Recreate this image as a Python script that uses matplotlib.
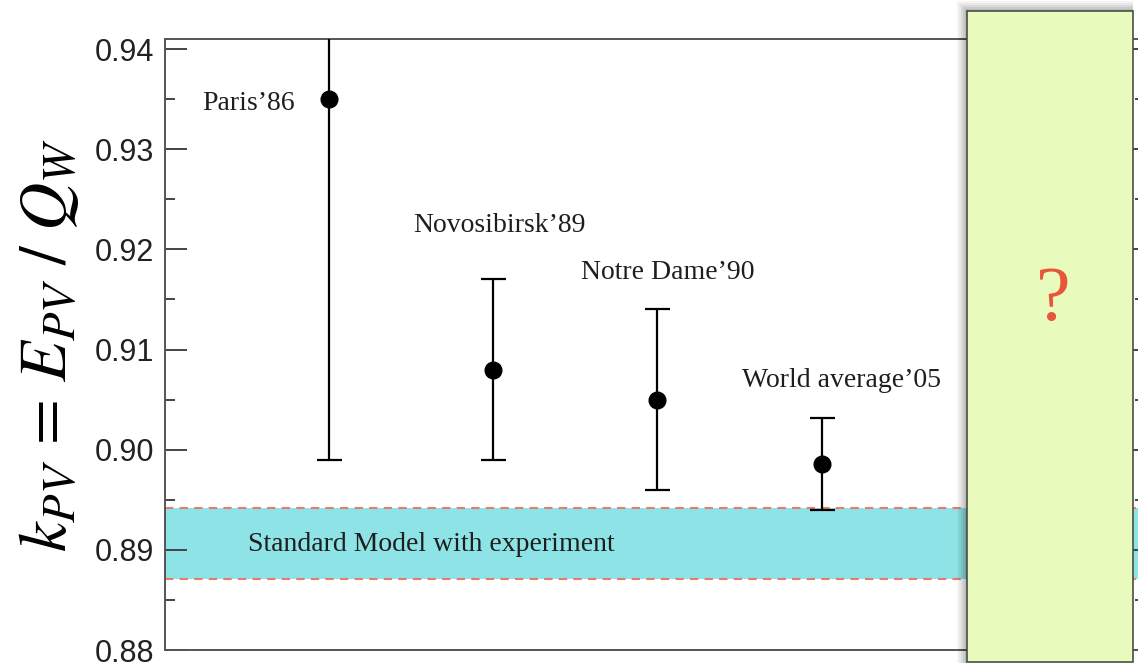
import matplotlib
matplotlib.use("Agg")
import matplotlib.pyplot as plt
from matplotlib.patches import Rectangle
from matplotlib.ticker import MultipleLocator

# measurements of k_PV = E_PV / Q_W
labels = ["Paris\u201986", "Novosibirsk\u201989", "Notre Dame\u201990", "World average\u201905"]
k_pv = [0.935, 0.908, 0.905, 0.8986]
k_err = [0.036, 0.009, 0.009, 0.0046]

# Standard Model band
sm_low = 0.8871
sm_high = 0.8942

W, H = 1138, 667
fig = plt.figure(figsize=(W / 100, H / 100), dpi=100)
ax = fig.add_axes([165 / W, 17 / H, 980 / W, 611 / H])

xs = list(range(1, len(k_pv) + 1))
ax.errorbar(xs, k_pv, yerr=k_err, fmt="o", color="black", ms=12,
            elinewidth=1.6, capsize=9, capthick=1.6, zorder=5)

ax.axhspan(sm_low, sm_high, color="#8ee3e6", lw=0, zorder=1)
for yv in (sm_low, sm_high):
    ax.axhline(yv, color="#ea7a6c", ls=(0, (4, 3)), lw=1.5, zorder=2)

serif = {"family": "Liberation Serif", "size": 20, "color": "#1e1e1e"}
ax.text(0.79, 0.9346, labels[0], ha="right", va="center", fontdict=serif)
ax.text(2.04, 0.9224, labels[1], ha="center", va="center", fontdict=serif)
ax.text(3.06, 0.9177, labels[2], ha="center", va="center", fontdict=serif)
ax.text(4.12, 0.9069, labels[3], ha="center", va="center", fontdict=serif)
ax.text(0.505, 0.8905, "Standard Model with experiment",
        ha="left", va="center", fontdict=serif)

ax.set_xlim(0, 5.97)
ax.set_ylim(0.88, 0.941)
ax.set_xticks([])
ax.yaxis.set_major_locator(MultipleLocator(0.01))
ax.yaxis.set_minor_locator(MultipleLocator(0.005))
ax.yaxis.set_major_formatter(plt.FormatStrFormatter("%.2f"))
ax.tick_params(axis="y", which="both", direction="in", right=True,
               color="#444444", width=1.4, labelsize=22, pad=8)
ax.tick_params(axis="y", which="major", length=16)
ax.tick_params(axis="y", which="minor", length=7)
for lab in ax.get_yticklabels():
    lab.set_fontfamily("Liberation Sans")
    lab.set_color("#222222")
for sp in ax.spines.values():
    sp.set_color("#555555")
    sp.set_linewidth(1.4)

fig.text(48 / W, 1 - 345 / H, r"$k_{PV}\, =\, E_{PV}\ /\ Q_W$", rotation=90,
         ha="center", va="center", fontsize=48, math_fontfamily="stix")

# covering panel, soft shadow along its left and top edges
px0, py0, px1, py1 = 967, 11, 1133, 662
for off, a in [(10, 0.04), (8, 0.05), (6, 0.06), (4, 0.07), (2, 0.08)]:
    fig.patches.append(Rectangle(((px0 - off) / W, 1 - (py1 + 1) / H),
                                 off / W, (py1 - py0 + off + 1) / H,
                                 transform=fig.transFigure, facecolor="black",
                                 alpha=a, lw=0, zorder=10))
    fig.patches.append(Rectangle((px0 / W, 1 - py0 / H),
                                 (px1 - px0) / W, off / H,
                                 transform=fig.transFigure, facecolor="black",
                                 alpha=a, lw=0, zorder=10))
fig.patches.append(Rectangle((px0 / W, 1 - py1 / H), (px1 - px0) / W, (py1 - py0) / H,
                             transform=fig.transFigure, facecolor="#e8fbbd",
                             edgecolor="#4a4f45", lw=1.2, zorder=11))
fig.text(1053 / W, 1 - 301 / H, "?", ha="center", va="center",
         family="Liberation Serif", fontsize=56, color="#e8553a", zorder=12)

fig.savefig("out.png", dpi=100)
